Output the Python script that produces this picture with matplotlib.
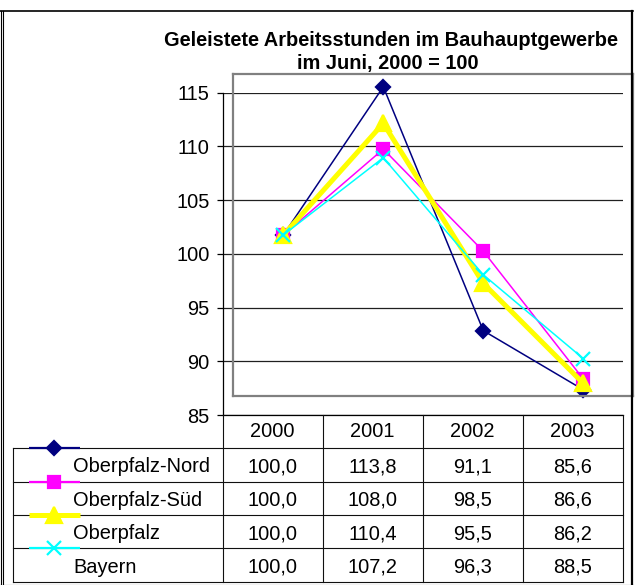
import matplotlib
matplotlib.use("Agg")
import matplotlib.pyplot as plt

plt.rcParams['font.family'] = ['Liberation Sans', 'DejaVu Sans']

# data
years = ["2000", "2001", "2002", "2003"]
series_names = ["Oberpfalz-Nord", "Oberpfalz-Süd", "Oberpfalz", "Bayern"]
oberpfalz_nord = [100.0, 113.8, 91.1, 85.6]
oberpfalz_sued = [100.0, 108.0, 98.5, 86.6]
oberpfalz = [100.0, 110.4, 95.5, 86.2]
bayern = [100.0, 107.2, 96.3, 88.5]
series_values = [oberpfalz_nord, oberpfalz_sued, oberpfalz, bayern]
y_ticks = [85, 90, 95, 100, 105, 110, 115]

title_1 = "Geleistete Arbeitsstunden im Bauhauptgewerbe"
title_2 = "im Juni, 2000 = 100"

# styles
colors = ["#000080", "#FF00FF", "#FFFF00", "#00FFFF"]
markers = ["D", "s", "^", "x"]
marker_sizes = [7.5, 8.5, 11.5, 9.5]
line_widths = [1.1, 1.1, 3.6, 1.1]

W, H = 636, 585
FS = 14.4


def fig_rect(x0, y0, x1, y1):
    return [x0 / W, 1 - y1 / H, (x1 - x0) / W, (y1 - y0) / H]


def fmt(v):
    return f"{v:.1f}".replace(".", ",")


fig = plt.figure(figsize=(W / 100, H / 100), dpi=100)
fig.patch.set_facecolor("white")

# axis with ticks and gridlines
AX_X0, AX_X1 = 222.7, 622.7
AX_Y0, AX_Y1 = 92.7, 415.0
ax = fig.add_axes(fig_rect(AX_X0, AX_Y0, AX_X1, AX_Y1))
ax.set_facecolor("none")
ax.set_xlim(-0.5, len(years) - 0.5)
ax.set_ylim(85, 115)
ax.set_yticks(y_ticks)
ax.set_xticks([])
ax.grid(axis="y", color="#202020", lw=0.9)
for s in ["top", "right"]:
    ax.spines[s].set_visible(False)
ax.spines["left"].set_linewidth(0.9)
ax.spines["bottom"].set_linewidth(0.9)
ax.tick_params(axis="y", direction="out", length=4.3, width=0.9,
               labelsize=FS, pad=5)

# plot area (displaced as in the original rendering)
dx, dy = 10.6, -18.8
ax2 = fig.add_axes(fig_rect(AX_X0 + dx, AX_Y0 + dy, AX_X1 + dx, AX_Y1 + dy))
ax2.set_facecolor("none")
ax2.set_xlim(-0.5, len(years) - 0.5)
ax2.set_ylim(85, 115)
ax2.set_xticks([])
ax2.set_yticks([])
for s in ax2.spines.values():
    s.set_color("#808080")
    s.set_linewidth(1.6)

x = list(range(len(years)))
for vals, c, m, ms, lw in zip(series_values, colors, markers, marker_sizes, line_widths):
    ax2.plot(x, vals, color=c, lw=lw, marker=m, markersize=ms,
             markerfacecolor=c, markeredgecolor=c, markeredgewidth=1.6,
             clip_on=False)

# overlay in pixel coordinates for title, table and frame
ov = fig.add_axes([0, 0, 1, 1])
ov.set_xlim(0, W)
ov.set_ylim(H, 0)
ov.axis("off")
ov.patch.set_visible(False)

ov.text(391, 40, title_1, ha="center", va="center", fontsize=FS, fontweight="bold")
ov.text(388, 63, title_2, ha="center", va="center", fontsize=FS, fontweight="bold")

# table
TBL_LEFT = 13.3
HEADER_TOP = AX_Y1
HEADER_BOTTOM = 448.3
ROW_H = 33.35
col_w = (AX_X1 - AX_X0) / len(years)
n_rows = len(series_names)
tbl_bottom = HEADER_BOTTOM + n_rows * ROW_H

line_kw = dict(color="#101010", lw=0.8)
for i in range(n_rows + 1):
    y = HEADER_BOTTOM + i * ROW_H
    ov.plot([TBL_LEFT, AX_X1], [y, y], **line_kw)
ov.plot([TBL_LEFT, TBL_LEFT], [HEADER_BOTTOM, tbl_bottom], **line_kw)
for j in range(len(years) + 1):
    xe = AX_X0 + j * col_w
    ov.plot([xe, xe], [HEADER_TOP, tbl_bottom], **line_kw)

for j, yr in enumerate(years):
    ov.text(AX_X0 + (j + 0.5) * col_w, (HEADER_TOP + HEADER_BOTTOM) / 2,
            yr, ha="center", va="center", fontsize=FS)

for i, (name, vals) in enumerate(zip(series_names, series_values)):
    top = HEADER_BOTTOM + i * ROW_H
    cy = top + ROW_H / 2 + 2
    ov.text(73, cy, name, ha="left", va="center", fontsize=FS)
    for j, v in enumerate(vals):
        ov.text(AX_X0 + (j + 0.5) * col_w, cy, fmt(v),
                ha="center", va="center", fontsize=FS)
    # legend key
    c = colors[i]
    ov.plot([29, 80], [top, top], color=c, lw=max(line_widths[i], 1.6),
            solid_capstyle="butt")
    ov.plot([54], [top], marker=markers[i], markersize=marker_sizes[i],
            color=c, markeredgecolor=c, markeredgewidth=1.6)

# outer frame
frame_kw = dict(color="black", clip_on=False)
ov.plot([0.5, 0.5], [11, H], lw=0.8, **frame_kw)
ov.plot([2.8, 2.8], [11, H], lw=0.8, **frame_kw)
ov.plot([0, 633], [11, 11], lw=1.2, **frame_kw)
ov.plot([632, 632], [11, H], lw=1.6, **frame_kw)
ov.plot([0, 633], [584.5, 584.5], lw=0.8, **frame_kw)

fig.savefig("out.png", dpi=100)
